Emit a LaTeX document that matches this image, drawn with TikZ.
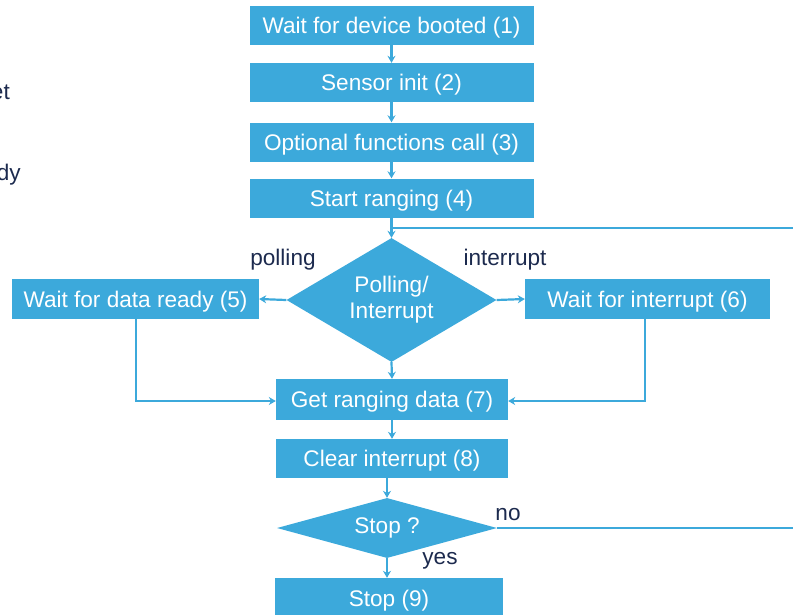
\documentclass[tikz,border=0pt]{standalone}
\usepackage{fontspec}
\setmainfont{Liberation Sans}
\usetikzlibrary{shapes.geometric,arrows.meta}
\definecolor{boxblue}{HTML}{3CA9DB}
\definecolor{navy}{HTML}{1C2A4E}
\begin{document}
\begin{tikzpicture}[x=1pt,y=-1pt,
  font=\fontsize{22.6}{26}\selectfont,
  stepbox/.style={rectangle,fill=boxblue,text=white,inner sep=0pt,minimum height=#1,text height=16.2pt,text depth=0pt},
  stepbox/.default=39,
  decision/.style={diamond,fill=boxblue,text=white,inner sep=0pt,align=center},
  lbl/.style={text=navy,inner sep=0pt},
  conn/.style={draw=boxblue,line width=2.2pt,-{Stealth[length=7pt,width=8pt]}},
  plain/.style={draw=boxblue,line width=2.2pt}]
\useasboundingbox (0,0) rectangle (793,614);
\clip (0,0) rectangle (793,614);
\node[stepbox,minimum width=284] (b1) at (391.5,25) {Wait for device booted (1)};
\node[stepbox,minimum width=284] (b2) at (391.5,82.5) {Sensor init (2)};
\node[stepbox,minimum width=284] (b3) at (391.5,142) {Optional functions call (3)};
\node[stepbox,minimum width=284] (b4) at (391.5,198) {Start ranging (4)};
\node[decision,minimum width=210,minimum height=124,shape aspect=1.7] (d1) at (391.5,300) {Polling/\\Interrupt};
\node[stepbox,minimum width=247,minimum height=40] (b5) at (135.5,299) {Wait for data ready (5)};
\node[stepbox,minimum width=245,minimum height=40] (b6) at (647.5,299) {Wait for interrupt (6)};
\node[stepbox,minimum width=232,minimum height=41] (b7) at (392,399.5) {Get ranging data (7)};
\node[stepbox,minimum width=232,minimum height=39] (b8) at (392,458.5) {Clear interrupt (8)};
\node[decision,minimum width=220,minimum height=60,shape aspect=3.67] (d2) at (387,528) {Stop ?};
\node[stepbox,minimum width=228,minimum height=46] (b9) at (389,601) {};
\node[text=white,inner sep=0pt,text height=16.2pt,text depth=0pt] (t9) at (389,598) {Stop (9)};
\node[lbl] (lp) at (283,260) {polling};
\node[lbl] (li) at (505,260) {interrupt};
\node[lbl] (lno) at (508,515) {no};
\node[lbl] (lyes) at (440,561) {yes};
\node[lbl,anchor=east] (le) at (10,92) {et};
\node[lbl,anchor=east] (ld) at (21,175) {dy};
\coordinate (loopR) at (800,228);
\coordinate (j1) at (391.5,228);
\coordinate (noR) at (800,528);
\coordinate (k5) at (136,401);
\coordinate (k6) at (645,401);
\draw[conn] (b1) -- (b2);
\draw[conn] (b2) -- (b3);
\draw[conn] (b3) -- (b4);
\draw[conn] (b4) -- (d1);
\draw[plain] (loopR) -- (j1);
\draw[conn] (d1.west) -- (b5.east);
\draw[conn] (d1.east) -- (b6.west);
\draw[conn] (b5.south -| k5) -- (k5) -- (k5 -| b7.west);
\draw[conn] (b6.south -| k6) -- (k6) -- (k6 -| b7.east);
\draw[conn] (d1.south) -- (b7.north);
\draw[conn] (b7) -- (b8);
\draw[conn] (b8.south -| d2.north) -- (d2.north);
\draw[conn] (d2.south) -- (d2.south |- b9.north);
\draw[plain] (d2.east) -- (noR);
\end{tikzpicture}
\end{document}
